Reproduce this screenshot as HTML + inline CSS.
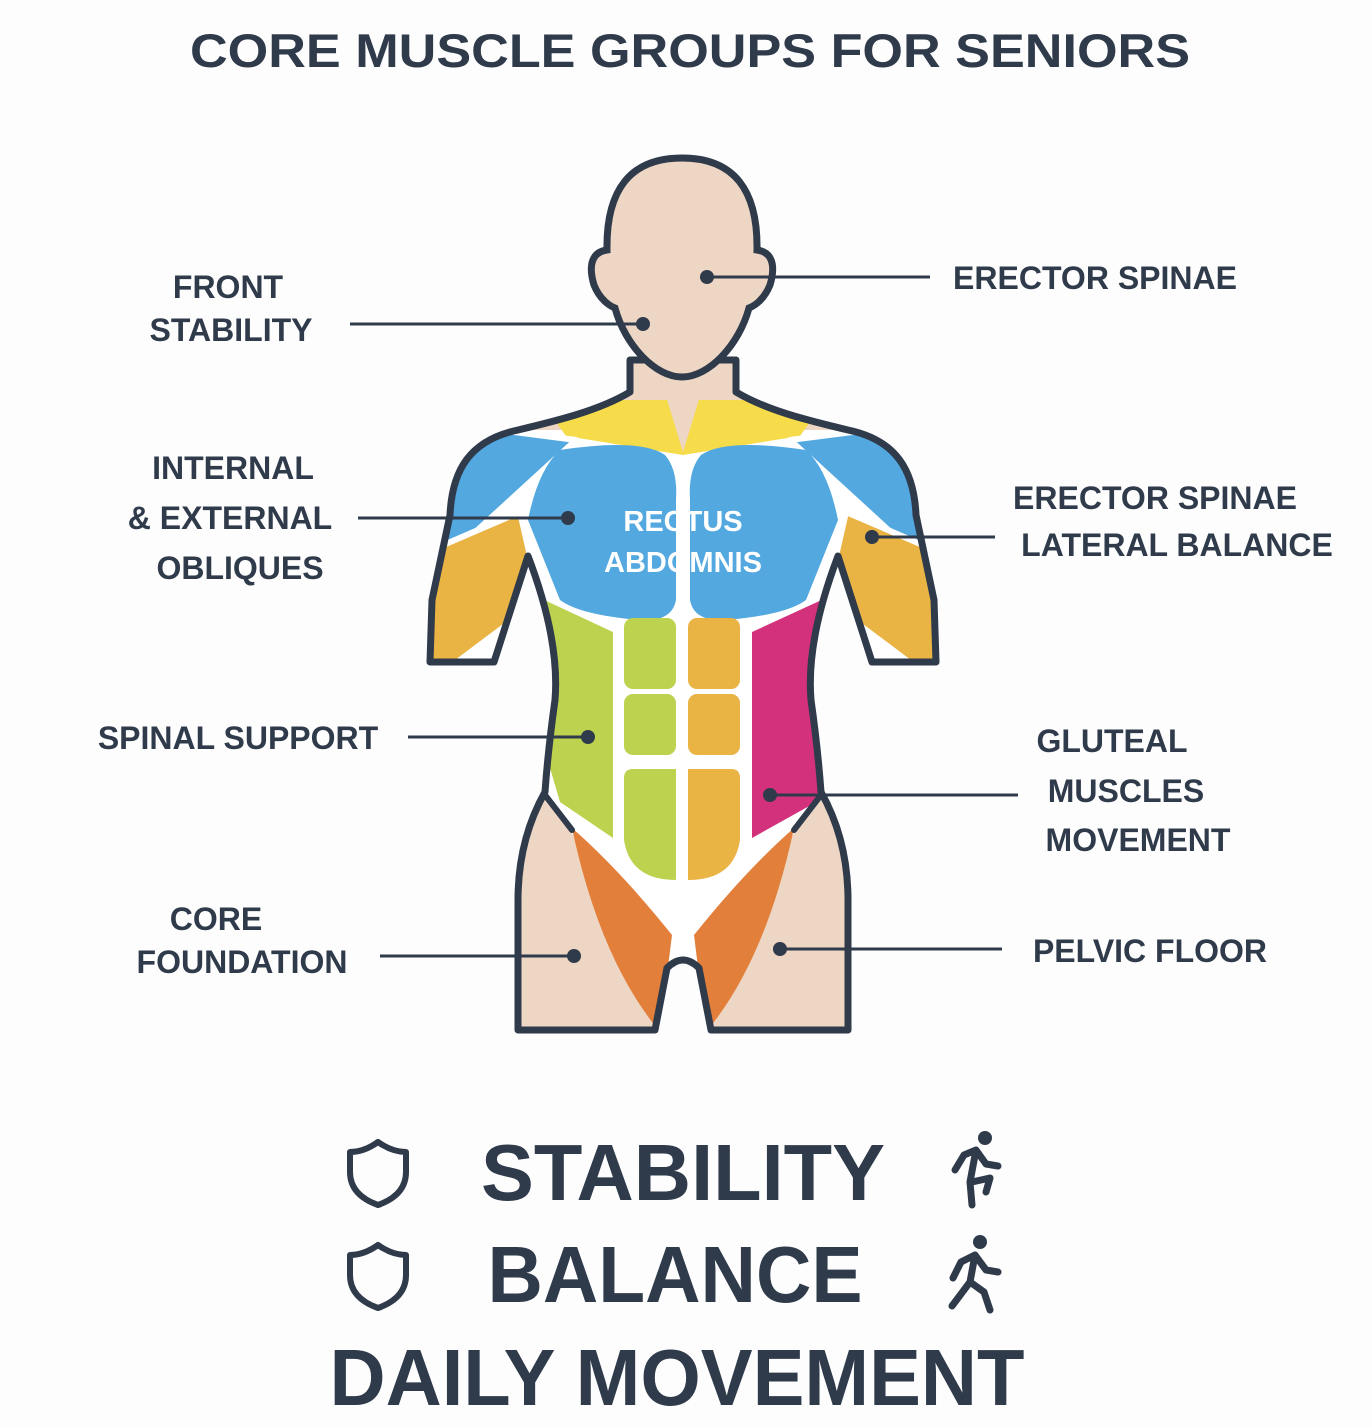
<!DOCTYPE html>
<html><head><meta charset="utf-8"><style>
html,body{margin:0;padding:0;background:#fdfdfd;}
svg{display:block;}
text{font-family:"Liberation Sans",sans-serif;font-weight:bold;fill:#2f3a4b;}
</style></head><body>
<svg width="1372" height="1426" viewBox="0 0 1372 1426" xmlns="http://www.w3.org/2000/svg">
<defs>
<clipPath id="bc"><path id="bp" d="M630,360 L630,392 C600,410 560,420 518,430 C470,440 452,470 450,515 L432,600 L430,662 L494,662 L528,556 Q560,640 555,700 Q548,750 545,792 Q518,840 518,900 L518,1030 L655,1030 L667,968 Q683,952 699,968 L711,1030 L848,1030 L848,900 Q848,840 821,792 Q818,750 811,700 Q806,640 838,556 L872,662 L936,662 L934,600 L916,515 C914,470 896,440 848,430 C806,420 766,410 736,392 L736,360 Z"/></clipPath>
</defs>
<text x="690" y="67" font-size="47" text-anchor="middle" textLength="1000" lengthAdjust="spacingAndGlyphs">CORE MUSCLE GROUPS FOR SENIORS</text>

<use href="#bp" fill="#edd6c4"/>
<g clip-path="url(#bc)">
<polygon points="430,430 935,430 935,792 821,795 700,965 665,965 545,795 430,792" fill="#fff"/>
<polygon points="540,400 826,400 800,436 683,455 566,436" fill="#f6dc4a"/>
<polygon points="655,360 711,360 683,452" fill="#edd6c4"/>
<g stroke="#fff" stroke-width="6" stroke-linejoin="round">
<polygon points="420,420 576,440 458,548 420,565" fill="#52a8df"/>
<polygon points="946,420 790,440 908,548 946,565" fill="#52a8df"/>
<polygon points="420,555 520,512 540,600 420,690" fill="#e9b444"/>
<polygon points="946,555 846,512 826,600 946,690" fill="#e9b444"/>
</g>
<path d="M560,450 Q640,438 665,455 Q678,470 676,500 L676,600 Q672,622 640,620 Q580,615 560,600 L528,520 Q538,470 560,450 Z" fill="#52a8df"/>
<path d="M806,450 Q726,438 701,455 Q688,470 690,500 L690,600 Q694,622 726,620 Q786,615 806,600 L838,520 Q828,470 806,450 Z" fill="#52a8df"/>
<polygon points="540,598 613,632 613,838 560,802 530,700" fill="#bdd350"/>
<polygon points="752,632 826,598 840,700 820,800 752,838" fill="#d4317c"/>
<path d="M572,828 Q620,870 672,935 L660,1032 Q600,960 572,828 Z" fill="#e27f3a"/>
<path d="M794,828 Q746,870 694,935 L706,1032 Q766,960 794,828 Z" fill="#e27f3a"/>
<rect x="624" y="618" width="52" height="71" rx="9" fill="#bdd350"/>
<rect x="624" y="694" width="52" height="61" rx="9" fill="#bdd350"/>
<path d="M633,769 L676,769 L676,880 Q630,880 624,840 L624,778 Q624,769 633,769 Z" fill="#bdd350"/>
<rect x="688" y="618" width="52" height="71" rx="9" fill="#e9b444"/>
<rect x="688" y="694" width="52" height="61" rx="9" fill="#e9b444"/>
<path d="M731,769 L688,769 L688,880 Q734,880 740,840 L740,778 Q740,769 731,769 Z" fill="#e9b444"/>
</g>
<use href="#bp" fill="none" stroke="#2f3a4b" stroke-width="7" stroke-linejoin="round"/>
<path d="M545,795 L572,830 M821,795 L794,830" stroke="#2f3a4b" stroke-width="6" stroke-linecap="round"/>
<path d="M682,158 C630,158 606,190 607,250 C592,252 588,265 594,285 C600,300 610,306 615,308 C625,345 655,377 682,377 C709,377 739,345 749,308 C754,306 764,300 770,285 C776,265 772,252 757,250 C758,190 734,158 682,158 Z" fill="#edd6c4" stroke="#2f3a4b" stroke-width="7"/>
<text x="683" y="531" font-size="29" text-anchor="middle" style="fill:#fff">RECTUS</text>
<text x="683" y="572" font-size="29" text-anchor="middle" style="fill:#fff">ABDOMNIS</text>

<g stroke="#2f3a4b" stroke-width="3">
<line x1="350" y1="324" x2="643" y2="324"/>
<line x1="707" y1="277" x2="930" y2="277"/>
<line x1="358" y1="518" x2="568" y2="518"/>
<line x1="872" y1="537" x2="995" y2="537"/>
<line x1="408" y1="737" x2="588" y2="737"/>
<line x1="770" y1="795" x2="1018" y2="795"/>
<line x1="380" y1="956" x2="574" y2="956"/>
<line x1="780" y1="949" x2="1002" y2="949"/>
</g>
<g fill="#2f3a4b">
<circle cx="643" cy="324" r="7"/><circle cx="707" cy="277" r="7"/><circle cx="568" cy="518" r="7"/>
<circle cx="872" cy="537" r="7"/><circle cx="588" cy="737" r="7"/><circle cx="770" cy="795" r="7"/>
<circle cx="574" cy="956" r="7"/><circle cx="780" cy="949" r="7"/>
</g>

<g font-size="32">
<text x="228" y="298" text-anchor="middle">FRONT</text>
<text x="231" y="341" text-anchor="middle">STABILITY</text>
<text x="1095" y="289" text-anchor="middle">ERECTOR SPINAE</text>
<text x="233" y="479" text-anchor="middle">INTERNAL</text>
<text x="230" y="529" text-anchor="middle">&amp; EXTERNAL</text>
<text x="240" y="579" text-anchor="middle">OBLIQUES</text>
<text x="1155" y="509" text-anchor="middle">ERECTOR SPINAE</text>
<text x="1177" y="556" text-anchor="middle">LATERAL BALANCE</text>
<text x="238" y="749" text-anchor="middle">SPINAL SUPPORT</text>
<text x="1112" y="752" text-anchor="middle">GLUTEAL</text>
<text x="1126" y="802" text-anchor="middle">MUSCLES</text>
<text x="1138" y="851" text-anchor="middle">MOVEMENT</text>
<text x="216" y="930" text-anchor="middle">CORE</text>
<text x="242" y="973" text-anchor="middle">FOUNDATION</text>
<text x="1150" y="962" text-anchor="middle">PELVIC FLOOR</text>
</g>

<text x="683" y="1200" font-size="80" text-anchor="middle" textLength="404" lengthAdjust="spacingAndGlyphs">STABILITY</text>
<text x="675" y="1302" font-size="80" text-anchor="middle" textLength="375" lengthAdjust="spacingAndGlyphs">BALANCE</text>
<text x="677" y="1405" font-size="80" text-anchor="middle" textLength="695" lengthAdjust="spacingAndGlyphs">DAILY MOVEMENT</text>
<g fill="none" stroke="#2f3a4b" stroke-width="6" stroke-linejoin="round">
<path d="M378,1142 Q392,1152 406,1152 L406,1172 Q406,1195 378,1205 Q350,1195 350,1172 L350,1152 Q364,1152 378,1142 Z"/>
<path d="M378,1245 Q392,1255 406,1255 L406,1275 Q406,1298 378,1308 Q350,1298 350,1275 L350,1255 Q364,1255 378,1245 Z"/>
</g>
<g stroke="#2f3a4b" stroke-width="7" stroke-linecap="round" stroke-linejoin="round" fill="none">
<circle cx="985" cy="1138" r="7" fill="#2f3a4b" stroke="none"/>
<path d="M976,1150 L964,1155 L955,1170 M976,1150 L970,1182 L972,1205 M976,1150 L986,1164 L998,1166 M972,1182 L990,1178 L986,1192"/>
<circle cx="980" cy="1242" r="7" fill="#2f3a4b" stroke="none"/>
<path d="M975,1255 L961,1262 L953,1278 M975,1255 L970,1282 L952,1306 M975,1255 L986,1270 L998,1272 M970,1282 L984,1292 L990,1310"/>
</g>
</svg>
</body></html>
